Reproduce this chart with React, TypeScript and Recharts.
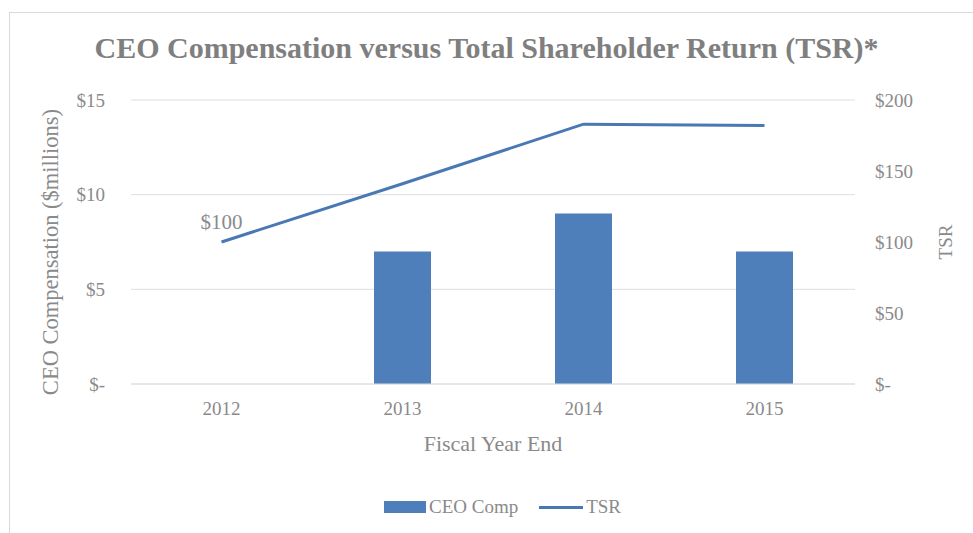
import React from "react";
import {
  ComposedChart,
  Bar,
  Line,
  XAxis,
  YAxis,
  CartesianGrid,
  Legend,
  LabelList,
} from "recharts";

const years = ["2012", "2013", "2014", "2015"];
const ceoComp = [null, 7.0, 9.0, 7.0];
const tsr = [100, 141, 183, 182];
const tsrLabels = ["$100", null, null, null];

const compTicks = [0, 5, 10, 15];
const tsrTicks = [0, 50, 100, 150, 200];

const data = years.map((year, i) => ({
  year,
  ceoComp: ceoComp[i],
  tsr: tsr[i],
  tsrLabel: tsrLabels[i],
}));

const FONT = '"Liberation Serif", "Times New Roman", serif';
const TEXT = "#8a8a8a";
const BAR = "#4f7fba";
const LINE = "#4a78b4";
const GRID = "#dedede";

const money = (v: number) => (v === 0 ? "$-" : `$${v}`);

// ─── Axis titles ──────────────────────────────────────────────────────────────

const LeftTitle = ({ viewBox }: any) => {
  const cx = viewBox.x + 50;
  const cy = viewBox.y + viewBox.height / 2 + 10;
  return (
    <text
      x={cx}
      y={cy}
      transform={`rotate(-90, ${cx}, ${cy})`}
      textAnchor="middle"
      dominantBaseline="central"
      fill={TEXT}
      fontFamily={FONT}
      fontSize={22.5}
    >
      CEO Compensation ($millions)
    </text>
  );
};

const RightTitle = ({ viewBox }: any) => {
  const cx = viewBox.x + 90;
  const cy = viewBox.y + viewBox.height / 2;
  return (
    <text
      x={cx}
      y={cy}
      transform={`rotate(-90, ${cx}, ${cy})`}
      textAnchor="middle"
      dominantBaseline="central"
      fill={TEXT}
      fontFamily={FONT}
      fontSize={19}
    >
      TSR
    </text>
  );
};

// ─── Legend ───────────────────────────────────────────────────────────────────

const LegendContent = () => (
  <div
    style={{
      display: "flex",
      alignItems: "center",
      justifyContent: "center",
      paddingLeft: 32,
      fontFamily: FONT,
      fontSize: 19,
      color: TEXT,
    }}
  >
    <span style={{ display: "inline-block", width: 42, height: 12, background: BAR, marginRight: 3 }} />
    <span>CEO Comp</span>
    <span
      style={{ display: "inline-block", width: 44, height: 3, background: LINE, marginLeft: 21, marginRight: 3 }}
    />
    <span>TSR</span>
  </div>
);

export default function App() {
  return (
    <div style={{ position: "absolute", left: 0, top: 0, width: 973, height: 533, background: "#fff", overflow: "hidden" }}>
      <div
        style={{
          position: "absolute",
          left: 9,
          top: 12,
          width: 1000,
          height: 600,
          border: "1px solid #d9d9d9",
          boxSizing: "border-box",
        }}
      />
      <div
        style={{
          position: "absolute",
          left: 0,
          top: 28,
          width: 973,
          textAlign: "center",
          fontFamily: FONT,
          fontSize: 30,
          fontWeight: "bold",
          color: "#7f7f7f",
          lineHeight: "40px",
        }}
      >
        CEO Compensation versus Total Shareholder Return (TSR)*
      </div>
      <div style={{ position: "absolute", left: 0, top: 0 }}>
        <ComposedChart width={973} height={533} data={data} margin={{ top: 100, right: 0, bottom: 0, left: 0 }}>
          <CartesianGrid yAxisId="left" vertical={false} stroke={GRID} />
          <XAxis
            dataKey="year"
            height={149}
            tickLine={false}
            tickSize={0}
            tickMargin={18}
            axisLine={{ stroke: GRID }}
            tick={{ fill: TEXT, fontFamily: FONT, fontSize: 19 }}
            label={{
              value: "Fiscal Year End",
              position: "insideTop",
              offset: 51,
              fill: TEXT,
              fontFamily: FONT,
              fontSize: 22,
            }}
          />
          <YAxis
            yAxisId="left"
            orientation="left"
            width={131}
            domain={[0, 15]}
            ticks={compTicks}
            tickFormatter={money}
            axisLine={false}
            tickLine={false}
            tickSize={0}
            tickMargin={26}
            tick={{ fill: TEXT, fontFamily: FONT, fontSize: 19 }}
            label={{ content: LeftTitle }}
          />
          <YAxis
            yAxisId="right"
            orientation="right"
            width={118}
            domain={[0, 200]}
            ticks={tsrTicks}
            tickFormatter={money}
            axisLine={false}
            tickLine={false}
            tickSize={0}
            tickMargin={20}
            tick={{ fill: TEXT, fontFamily: FONT, fontSize: 19 }}
            label={{ content: RightTitle }}
          />
          <Legend layout="horizontal" verticalAlign="middle" content={LegendContent} wrapperStyle={{ top: 496, left: 0, width: 973 }} />
          <Bar yAxisId="left" dataKey="ceoComp" name="CEO Comp" fill={BAR} barSize={57} isAnimationActive={false} />
          <Line
            yAxisId="right"
            type="linear"
            dataKey="tsr"
            name="TSR"
            stroke={LINE}
            strokeWidth={3}
            dot={false}
            isAnimationActive={false}
          >
            <LabelList dataKey="tsrLabel" position="top" offset={13} fill={TEXT} fontFamily={FONT} fontSize={21} />
          </Line>
        </ComposedChart>
      </div>
    </div>
  );
}
